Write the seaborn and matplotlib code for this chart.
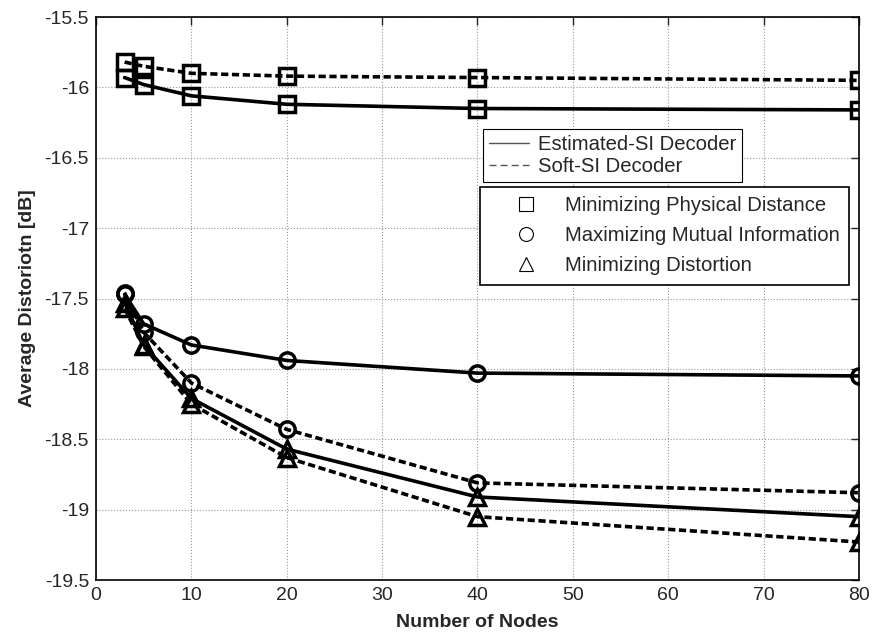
import numpy as np
import pandas as pd
import matplotlib
matplotlib.use('Agg')
import matplotlib.pyplot as plt
from matplotlib.lines import Line2D
import seaborn as sns

nodes = [3, 5, 10, 20, 40, 80]

# Minimizing Physical Distance
sq_est = [-15.93, -15.98, -16.06, -16.12, -16.15, -16.16]
sq_soft = [-15.82, -15.85, -15.90, -15.92, -15.93, -15.95]
# Maximizing Mutual Information
ci_est = [-17.47, -17.68, -17.83, -17.94, -18.03, -18.05]
ci_soft = [-17.46, -17.74, -18.10, -18.43, -18.81, -18.88]
# Minimizing Distortion
tr_est = [-17.53, -17.83, -18.21, -18.57, -18.91, -19.05]
tr_soft = [-17.57, -17.84, -18.25, -18.63, -19.05, -19.23]

series = [
    (sq_est, 's', 'est'), (sq_soft, 's', 'soft'),
    (ci_est, 'o', 'est'), (ci_soft, 'o', 'soft'),
    (tr_est, '^', 'est'), (tr_soft, '^', 'soft'),
]

sns.set_style('white')
plt.rcParams['font.family'] = ['Liberation Sans', 'DejaVu Sans']

fig = plt.figure(figsize=(8.75, 6.35), dpi=100)
ax = fig.add_axes([0.1097, 0.0866, 0.872, 0.8866])

for vals, mk, kind in series:
    df = pd.DataFrame({'x': nodes, 'y': vals})
    ls = '-' if kind == 'est' else (0, (2.0, 1.0))
    sns.lineplot(data=df, x='x', y='y', ax=ax, color='black', linewidth=2.6,
                 linestyle=ls, marker=mk, markersize=11 if mk != 's' else 12,
                 markerfacecolor='none', markeredgecolor='black',
                 markeredgewidth=2.5, legend=False)

ax.set_xlim(0, 80)
ax.set_ylim(-19.5, -15.5)
ax.set_xticks(np.arange(0, 81, 10))
ax.set_yticks(np.arange(-19.5, -15.4, 0.5))
ax.set_yticklabels(['-19.5', '-19', '-18.5', '-18', '-17.5', '-17', '-16.5', '-16', '-15.5'])
ax.grid(True, color='#999999', linestyle=':', linewidth=0.8)
ax.tick_params(direction='in', top=True, right=True, labelsize=14, length=6, width=1, pad=5)
for sp in ax.spines.values():
    sp.set_color('black')
    sp.set_linewidth(1.2)
ax.set_xlabel('Number of Nodes', fontsize=14, fontweight='bold', labelpad=7)
ax.set_ylabel('Average Distoriotn [dB]', fontsize=14, fontweight='bold', labelpad=6)

h1 = [Line2D([], [], color='#555555', linewidth=1, linestyle='-'),
      Line2D([], [], color='#555555', linewidth=1, linestyle=(0, (5, 3)))]
leg1 = ax.legend(h1, ['Estimated-SI Decoder', 'Soft-SI Decoder'],
                 loc='upper left', bbox_to_anchor=(0.507, 0.801), fontsize=14.6,
                 frameon=True, fancybox=False, edgecolor='black', framealpha=1,
                 handlelength=2.0, handletextpad=0.4, borderpad=0.3,
                 labelspacing=0.15, borderaxespad=0)
leg1.get_frame().set_linewidth(0.8)
ax.add_artist(leg1)

h2 = [Line2D([], [], color='black', linestyle='none', marker=m, markersize=10,
             markerfacecolor='none', markeredgewidth=0.8) for m in ['s', 'o', '^']]
leg2 = ax.legend(h2, ['Minimizing Physical Distance', 'Maximizing Mutual Information',
                      'Minimizing Distortion'],
                 loc='upper left', bbox_to_anchor=(0.503, 0.698), fontsize=14.6,
                 frameon=True, fancybox=False, edgecolor='black', framealpha=1,
                 handlelength=3.7, handletextpad=0.05, borderpad=0.45,
                 labelspacing=0.55, borderaxespad=0)
leg2.get_frame().set_linewidth(1.2)

fig.savefig('out.png', dpi=100)
